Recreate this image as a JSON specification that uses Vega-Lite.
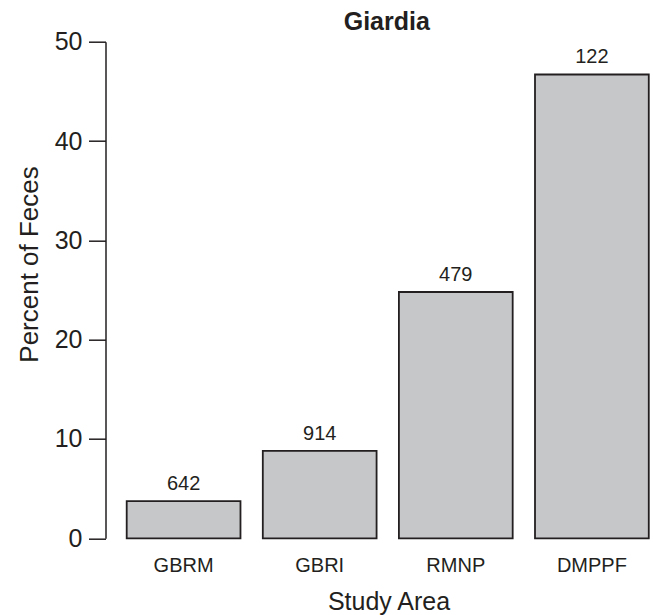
{
  "$schema": "https://vega.github.io/schema/vega-lite/v6.json",
  "width": 547.5,
  "height": 496.6,
  "autosize": {"type": "none"},
  "padding": {"left": 105.5, "top": 41.7, "right": 0, "bottom": 77},
  "background": "white",
  "config": {"view": {"stroke": null}, "font": "Liberation Sans"},
  "title": {"text": "Giardia", "fontSize": 25, "fontWeight": "bold", "color": "#231f20", "anchor": "middle", "dx": 7.5, "offset": -30, "baseline": "bottom"},
  "data": {"values": [
    {"area": "GBRM", "pct": 3.75, "n": "642"},
    {"area": "GBRI", "pct": 8.8, "n": "914"},
    {"area": "RMNP", "pct": 24.8, "n": "479"},
    {"area": "DMPPF", "pct": 46.7, "n": "122"}
  ]},
  "encoding": {
    "x": {"field": "area", "type": "nominal", "sort": null,
      "scale": {"paddingInner": 0.164, "paddingOuter": 0.0934, "align": 0.834},
      "axis": {"labelAngle": 0, "domain": false, "ticks": false, "tickSize": 0, "labelFontSize": 20, "labelColor": "#231f20", "labelPadding": 33.4, "labelBaseline": "alphabetic",
        "title": "Study Area", "titleFontSize": 25, "titleFontWeight": "normal", "titleColor": "#231f20", "titleX": 283, "titleY": 71.5, "titleBaseline": "alphabetic", "titleAlign": "center"}},
    "y": {"field": "pct", "type": "quantitative",
      "scale": {"domain": [0, 50], "nice": false, "zero": true},
      "axis": {"values": [0, 10, 20, 30, 40, 50], "grid": false, "labelFontSize": 25, "labelColor": "#231f20", "labelPadding": 6.5, "labelBaseline": "middle",
        "tickSize": 17, "tickColor": "#231f20", "tickWidth": 1.5, "domainColor": "#231f20", "domainWidth": 1.5,
        "title": "Percent of Feces", "titleFontSize": 26, "titleFontWeight": "normal", "titleColor": "#231f20", "titleX": -68, "titleY": 222.3, "titleAngle": -90, "titleBaseline": "alphabetic", "titleAlign": "center"}}
  },
  "layer": [
    {"mark": {"type": "bar", "fill": "#c6c7c9", "stroke": "#231f20", "strokeWidth": 1.8}},
    {"mark": {"type": "text", "baseline": "alphabetic", "dy": -11, "fontSize": 20, "fill": "#231f20"},
     "encoding": {"text": {"field": "n"}}}
  ]
}
